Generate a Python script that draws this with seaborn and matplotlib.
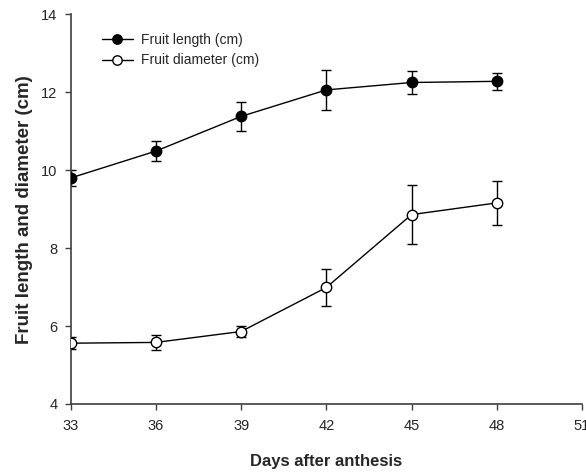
import matplotlib
matplotlib.use('Agg')
import matplotlib.pyplot as plt
import numpy as np
import pandas as pd
import seaborn as sns

# values
days = [33, 36, 39, 42, 45, 48]
length_mean = [9.80, 10.49, 11.38, 12.06, 12.25, 12.28]
length_err = [0.20, 0.25, 0.37, 0.51, 0.29, 0.22]
diameter_mean = [5.56, 5.58, 5.86, 6.99, 8.86, 9.16]
diameter_err = [0.16, 0.20, 0.15, 0.47, 0.76, 0.56]
series_names = ['Fruit length (cm)', 'Fruit diameter (cm)']
x_ticks = [33, 36, 39, 42, 45, 48, 51]
y_ticks = [4, 6, 8, 10, 12, 14]

sns.set_style('ticks')
plt.rcParams['font.family'] = ['Liberation Sans', 'DejaVu Sans']

data = pd.concat([
    pd.DataFrame({'days': days, 'value': length_mean, 'err': length_err, 'series': series_names[0]}),
    pd.DataFrame({'days': days, 'value': diameter_mean, 'err': diameter_err, 'series': series_names[1]}),
])

fig = plt.figure(figsize=(5.86, 4.72), dpi=100)
ax = fig.add_axes([0.1206, 0.1441, 0.8726, 0.8256])

face_colors = {series_names[0]: 'black', series_names[1]: 'white'}
for name in series_names:
    subset = data[data['series'] == name]
    ax.errorbar(subset['days'], subset['value'], yerr=subset['err'], fmt='none',
                ecolor='black', elinewidth=1.0, capsize=3.8, capthick=1.0, zorder=2)
    sns.lineplot(data=subset, x='days', y='value', ax=ax, color='black', linewidth=1.0,
                 marker='o', markersize=7.5, markerfacecolor=face_colors[name],
                 markeredgecolor='black', markeredgewidth=1.0, label=name, zorder=3)

ax.set_xlim(33, 51)
ax.set_ylim(4, 14)
ax.set_xticks(x_ticks)
ax.set_yticks(y_ticks)
ax.tick_params(direction='out', length=4, width=1, color='#404040', labelsize=10.5)
ax.tick_params(axis='x', pad=6.5)
ax.tick_params(axis='y', pad=5.5)
for side in ['left', 'bottom']:
    ax.spines[side].set_color('#404040')
    ax.spines[side].set_linewidth(1.2)
sns.despine(ax=ax)

ax.set_xlabel('Days after anthesis', fontsize=12, fontweight='bold', labelpad=15.5)
ax.set_ylabel('Fruit length and diameter (cm)', fontsize=13.5, fontweight='bold', labelpad=6)

leg = ax.legend(loc='upper left', bbox_to_anchor=(0.0606, 0.952), frameon=False, fontsize=10,
                handlelength=2.27, handletextpad=0.55, labelspacing=0.46,
                borderaxespad=0, borderpad=0, markerscale=0.9)

fig.savefig('out.png', dpi=100)
